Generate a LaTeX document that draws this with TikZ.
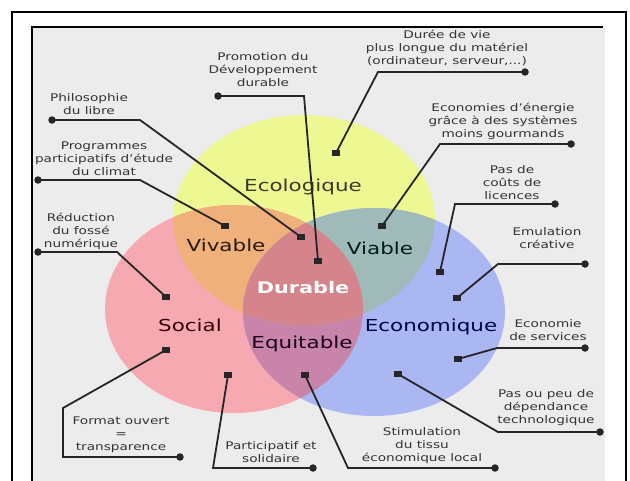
\documentclass[tikz,border=0pt]{standalone}
\usepackage{fontspec}
\setmainfont{DejaVu Sans}[FakeStretch=1.3]
\usepackage{tikz}
\usetikzlibrary{arrows.meta}
\definecolor{panel}{HTML}{ECECEC}
\definecolor{ecocol}{HTML}{EEF892}
\definecolor{soccol}{HTML}{F7A9B1}
\definecolor{ecncol}{HTML}{AAB7F2}
\definecolor{vivcol}{HTML}{F0B07C}
\definecolor{viacol}{HTML}{9FBAB8}
\definecolor{equcol}{HTML}{C985A9}
\definecolor{durcol}{HTML}{D4848A}
\definecolor{inkcol}{HTML}{262626}
\tikzstyle{theme} = [font=\fontsize{16.5}{19}\selectfont, inner sep=0pt]
\tikzstyle{info} = [align=center, text=black!80, font=\fontsize{10.5}{13}\selectfont, inner sep=0pt]
\tikzstyle{dot} = [circle, fill=inkcol, inner sep=0pt, minimum size=7.5pt]
\tikzstyle{pin} = [rectangle, fill=inkcol, inner sep=0pt, minimum width=7.5pt, minimum height=6.5pt]
\tikzstyle{lead} = [draw=inkcol, line width=1.8pt]

\begin{document}
\begin{tikzpicture}[x=1pt, y=-1pt]
\useasboundingbox (0,0) rectangle (630,480);

% frames
\fill[white] (0,0) rectangle (630,480);
\draw[line width=1.8pt] (12,490) -- (12,12) -- (626,12) -- (626,490);
\fill[panel] (32,27) rectangle (605,490);
\draw[line width=2pt] (32,490) -- (32,27) -- (603,27);

% circles
\fill[ecocol] (304,220) ellipse [x radius=131, y radius=105];
\fill[soccol] (234,309) ellipse [x radius=129, y radius=104];
\fill[ecncol] (374,312) ellipse [x radius=131, y radius=104];
\begin{scope}
\clip (234,309) ellipse [x radius=129, y radius=104];
\fill[vivcol] (304,220) ellipse [x radius=131, y radius=105];
\fill[equcol] (374,312) ellipse [x radius=131, y radius=104];
\clip (304,220) ellipse [x radius=131, y radius=105];
\fill[durcol] (374,312) ellipse [x radius=131, y radius=104];
\end{scope}
\begin{scope}
\clip (304,220) ellipse [x radius=131, y radius=105];
\clip (374,312) ellipse [x radius=131, y radius=104];
\fill[viacol] (304,220) ellipse [x radius=131, y radius=105];
\begin{scope}
\clip (234,309) ellipse [x radius=129, y radius=104];
\fill[durcol] (304,220) ellipse [x radius=131, y radius=105];
\end{scope}
\end{scope}

% themes
\node (ecolo) [theme, text=black!75!olive] at (303,187) {Ecologique};
\node (vivab) [theme, text=black!80!brown] at (226,245) {Vivable};
\node (viabl) [theme, text=black!80!teal] at (380,248) {Viable};
\node (durab) [theme, text=white, font=\fontsize{16}{19}\selectfont\bfseries] at (303,288) {Durable};
\node (socia) [theme, text=black!80!red] at (190,325) {Social};
\node (equit) [theme, text=black!80!violet] at (302,344) {Equitable};
\node (econo) [theme, text=black!70!blue] at (431,327) {Economique};

% labels
\node (promo) [info] at (263,70) {Promotion du\\Développement\\durable};
\node (philo) [info] at (89,104) {Philosophie\\du libre};
\node (progr) [info] at (104,159) {Programmes\\participatifs d'étude\\du climat};
\node (reduc) [info] at (81,231) {Réduction\\du fossé\\numérique};
\node (forma) [info] at (121,435) {Format ouvert\\=\\transparence};
\node (parti) [info] at (271,452) {Participatif et\\solidaire};
\node (stimu) [info] at (422,446) {Stimulation\\du tissu\\économique local};
\node (depen) [info] at (546,408) {Pas ou peu de\\dépendance\\technologique};
\node (servi) [info] at (548,330) {Economie\\de services};
\node (emula) [info] at (547,238) {Emulation\\créative};
\node (licen) [info] at (512,183) {Pas de\\coûts de\\licences};
\node (energ) [info] at (503,121) {Economies d'énergie\\grâce à des systèmes\\moins gourmands};
\node (duree) [info] at (447,48) {Durée de vie\\plus longue du matériel\\(ordinateur, serveur,...)};

% dots and pins
\node (promo-d) [dot] at (218,96) {};
\node (promo-p) [pin] at (318,261) {};
\node (philo-d) [dot] at (52,120) {};
\node (philo-p) [pin] at (301,237) {};
\node (progr-d) [dot] at (38,180) {};
\node (progr-p) [pin] at (225,226) {};
\node (reduc-d) [dot] at (38,252) {};
\node (reduc-p) [pin] at (166,297) {};
\node (forma-d) [dot] at (180,457) {};
\node (forma-p) [pin] at (166,350) {};
\node (parti-d) [dot] at (313,468) {};
\node (parti-p) [pin] at (228,375) {};
\node (stimu-d) [dot] at (495,468) {};
\node (stimu-p) [pin] at (305,375) {};
\node (depen-d) [dot] at (600,432) {};
\node (depen-p) [pin] at (398,374) {};
\node (servi-d) [dot] at (585,348) {};
\node (servi-p) [pin] at (458,359) {};
\node (emula-d) [dot] at (585,264) {};
\node (emula-p) [pin] at (457,298) {};
\node (licen-d) [dot] at (555,204) {};
\node (licen-p) [pin] at (440,272) {};
\node (energ-d) [dot] at (571,144) {};
\node (energ-p) [pin] at (382,226) {};
\node (duree-d) [dot] at (525,72) {};
\node (duree-p) [pin] at (336,153) {};

% bends
\coordinate (promo-b) at (304,96);
\coordinate (philo-b) at (140,120);
\coordinate (progr-b) at (140,180);
\coordinate (reduc-b) at (117,252);
\coordinate (forma-b) at (63,408);
\coordinate (forma-c) at (63,457);
\coordinate (parti-b) at (213,468);
\coordinate (stimu-b) at (348,468);
\coordinate (depen-b) at (498,432);
\coordinate (servi-b) at (497,348);
\coordinate (emula-b) at (498,264);
\coordinate (licen-b) at (455,204);
\coordinate (energ-b) at (440,144);
\coordinate (duree-b) at (378,72);

\draw [lead] (promo-d.center) -- (promo-b) -- (promo-p.center);
\draw [lead] (philo-d.center) -- (philo-b) -- (philo-p.center);
\draw [lead] (progr-d.center) -- (progr-b) -- (progr-p.center);
\draw [lead] (reduc-d.center) -- (reduc-b) -- (reduc-p.center);
\draw [lead] (forma-p.center) -- (forma-b) -- (forma-c) -- (forma-d.center);
\draw [lead] (parti-p.center) -- (parti-b) -- (parti-d.center);
\draw [lead] (stimu-p.center) -- (stimu-b) -- (stimu-d.center);
\draw [lead] (depen-p.center) -- (depen-b) -- (depen-d.center);
\draw [lead] (servi-p.center) -- (servi-b) -- (servi-d.center);
\draw [lead] (emula-p.center) -- (emula-b) -- (emula-d.center);
\draw [lead] (licen-p.center) -- (licen-b) -- (licen-d.center);
\draw [lead] (energ-p.center) -- (energ-b) -- (energ-d.center);
\draw [lead] (duree-p.center) -- (duree-b) -- (duree-d.center);

\end{tikzpicture}
\end{document}
